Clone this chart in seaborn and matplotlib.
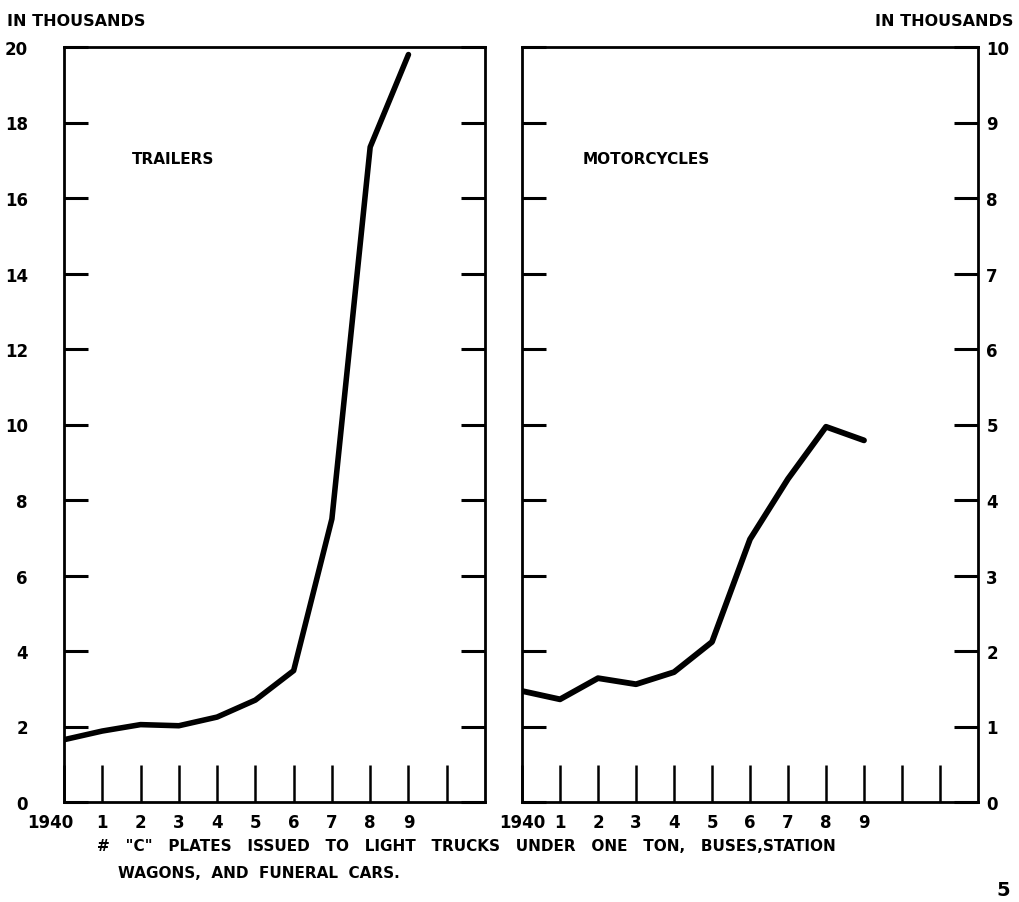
import matplotlib.pyplot as plt
import matplotlib.transforms as mtransforms
import pandas as pd
import seaborn as sns

# values (thousands)
years = [1940, 1941, 1942, 1943, 1944, 1945, 1946, 1947, 1948, 1949]
trailers = [1.65, 1.88, 2.05, 2.02, 2.25, 2.7, 3.48, 7.5, 17.35, 19.8]
motorcycles = [1.47, 1.36, 1.64, 1.56, 1.72, 2.12, 3.48, 4.28, 4.97, 4.79]

year_labels = ["1940", "1", "2", "3", "4", "5", "6", "7", "8", "9"]
left_yticks = list(range(0, 21, 2))
right_yticks = list(range(0, 11))

caption_1 = '#   "C"   PLATES   ISSUED   TO   LIGHT   TRUCKS   UNDER   ONE   TON,   BUSES,STATION'
caption_2 = "WAGONS,  AND  FUNERAL  CARS."

df = pd.DataFrame({"year": years, "trailers": trailers, "motorcycles": motorcycles})

sns.set_style("white")
plt.rcParams["font.family"] = ["DejaVu Sans"]
plt.rcParams["font.weight"] = "bold"
for key in ["text.color", "axes.labelcolor", "xtick.color", "ytick.color"]:
    plt.rcParams[key] = "black"

W, H = 1019, 903
fig = plt.figure(figsize=(W / 100, H / 100), dpi=100)


def px(x, y):
    return x / W, 1 - y / H


ax1 = fig.add_axes([64 / W, 100 / H, 421 / W, 755 / H])
ax2 = fig.add_axes([522 / W, 100 / H, 456 / W, 755 / H])

sns.lineplot(data=df, x="year", y="trailers", ax=ax1, color="black",
             linewidth=4, solid_capstyle="round")
sns.lineplot(data=df, x="year", y="motorcycles", ax=ax2, color="black",
             linewidth=4.2, solid_capstyle="round")

panels = [
    (ax1, 1951, left_yticks, 20, "left"),
    (ax2, 1952, right_yticks, 10, "right"),
]
for ax, xmax, yticks, ymax, side in panels:
    ax.set_xlim(1940, xmax)
    ax.set_ylim(0, ymax)
    ax.set_xlabel("")
    ax.set_ylabel("")
    ax.grid(False)
    for sp in ax.spines.values():
        sp.set_visible(True)
        sp.set_linewidth(2)
        sp.set_color("black")

    xt = list(range(1940, xmax))
    ax.set_xticks(xt)
    ax.set_xticklabels(year_labels + [""] * (len(xt) - len(year_labels)))
    ax.tick_params(axis="x", direction="in", length=27, width=1.8,
                   pad=8, labelsize=12, bottom=True, top=False,
                   color="black", labelcolor="black")

    ax.set_yticks(yticks)
    ax.set_yticklabels([str(v) for v in yticks])
    ax.tick_params(axis="y", direction="in", length=17, width=2.2,
                   left=True, right=True, labelsize=12,
                   color="black", labelcolor="black")
    if side == "left":
        ax.tick_params(axis="y", labelleft=True, labelright=False, pad=26)
    else:
        ax.tick_params(axis="y", labelleft=False, labelright=True, pad=6)

# nudge the first year label of the left panel
lab = ax1.get_xticklabels()[0]
lab.set_transform(lab.get_transform()
                  + mtransforms.ScaledTranslation(-0.14, 0, fig.dpi_scale_trans))

fig.text(*px(7, 22), "IN THOUSANDS", fontsize=11.5, fontweight="bold",
         ha="left", va="center")
fig.text(*px(1013, 22), "IN THOUSANDS", fontsize=11.5, fontweight="bold",
         ha="right", va="center")
fig.text(*px(173, 160), "TRAILERS", fontsize=11, fontweight="bold",
         ha="center", va="center")
fig.text(*px(646, 160), "MOTORCYCLES", fontsize=11, fontweight="bold",
         ha="center", va="center")

fig.text(*px(97, 847), caption_1, fontsize=11, fontweight="bold",
         ha="left", va="center")
fig.text(*px(118, 874), caption_2, fontsize=11, fontweight="bold",
         ha="left", va="center")
fig.text(*px(1003, 891), "5", fontsize=14, fontweight="bold",
         ha="center", va="center")

fig.savefig("out.png", dpi=100)
